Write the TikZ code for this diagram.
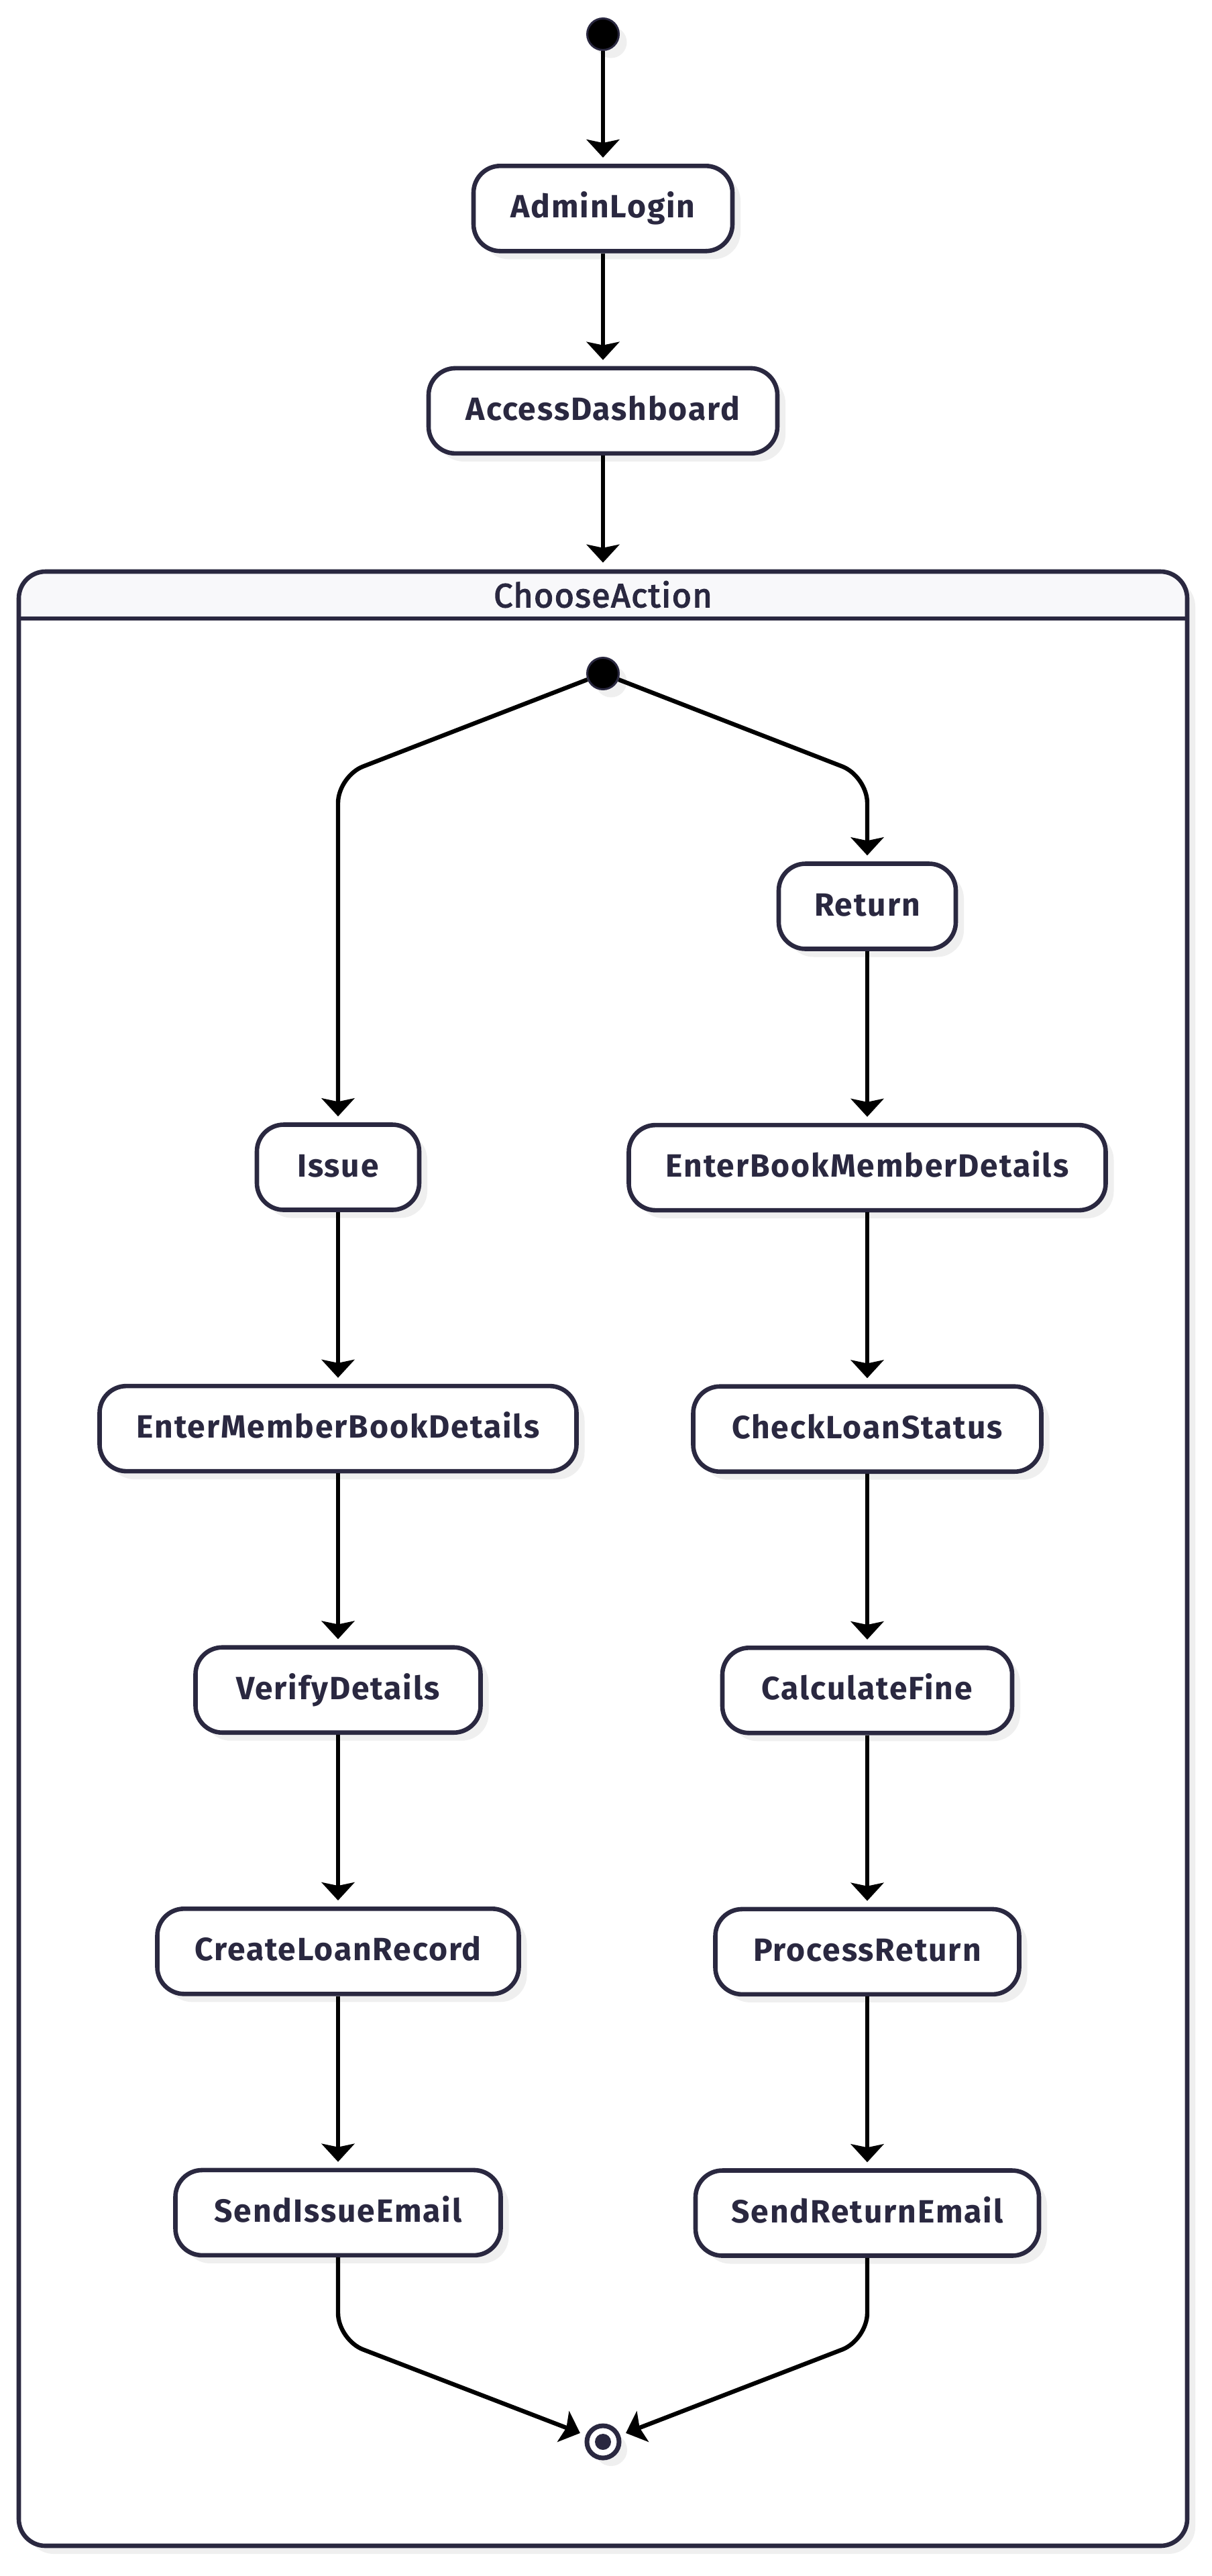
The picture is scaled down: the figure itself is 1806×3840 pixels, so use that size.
\documentclass[tikz,border=0pt]{standalone}
\usepackage{fontspec}
\usetikzlibrary{arrows.meta,positioning,shadows}
\setmainfont{Fira Sans}
\newfontfamily\statefont{Fira Sans}[LetterSpace=4]
\newfontfamily\titlefont{Fira Sans}[LetterSpace=3,FakeBold=3]
\definecolor{ink}{HTML}{2A2840}
\definecolor{panel}{HTML}{F8F8FA}
\definecolor{shade}{HTML}{EFEFEF}

\begin{document}
\begin{tikzpicture}[
  x=0.5pt,y=-0.5pt,
  flow/.style={-{Stealth[length=13.5pt,width=24.5pt,inset=2.5pt]},line width=3.2pt,draw=black,
               shorten >=4.5pt},
  castshadow/.style={drop shadow={shadow xshift=6pt,shadow yshift=-6pt,fill=shade,opacity=1}},
  state/.style={draw=ink,fill=white,line width=3.3pt,rounded corners=20pt,castshadow,
                minimum height=63.5pt,inner sep=0pt,text height=18pt,text depth=4pt,
                font=\statefont\bfseries\fontsize{24}{28}\selectfont,text=ink},
  initial/.style={circle,fill=black,draw=ink,line width=1.5pt,minimum size=23.5pt,
                  inner sep=0pt,castshadow},
  final/.style={circle,fill=white,draw=ink,line width=3.5pt,minimum size=24pt,inner sep=0pt,
                castshadow,
                path picture={\fill[ink] (path picture bounding box.center) circle (6pt);}},
  cluster/.style={draw=ink,fill=white,line width=3.3pt,rounded corners=20pt,inner sep=0pt,
                  castshadow,
                  path picture={
                    \fill[panel,sharp corners] (path picture bounding box.north west)
                      rectangle ([yshift=-35pt]path picture bounding box.north east);
                    \draw[ink,line width=3.3pt,sharp corners]
                      ([yshift=-35pt]path picture bounding box.north west) --
                      ([yshift=-35pt]path picture bounding box.north east);}},
  clustertitle/.style={font=\titlefont\fontsize{25}{30}\selectfont,text=ink}
]
\fill[white] (0,0) rectangle (1806,3840);
\useasboundingbox (0,0) rectangle (1806,3840);

% Top of the flow
\node[initial] (start) at (899,51) {};
\node[state,minimum width=193pt,below=84pt of start] (login) {AdminLogin};
\node[state,minimum width=260pt,below=84pt of login] (dash) {AccessDashboard};

% Composite state
\node[cluster,minimum width=871pt,minimum height=1471.5pt] (choose) at (899,2323.5) {};
\node[clustertitle] (chooseTitle) at (899,886) {ChooseAction};
\node[initial] (fork) at (899,1004) {};

% Return branch
\node[state,minimum width=132pt] (ret) at (1293,1351) {Return};
\node[state,minimum width=355.5pt,below=128pt of ret] (enterBM) {EnterBookMemberDetails};
\node[state,minimum width=259.5pt,below=128pt of enterBM] (check) {CheckLoanStatus};
\node[state,minimum width=216pt,below=128pt of check] (fine) {CalculateFine};
\node[state,minimum width=226.5pt,below=128pt of fine] (process) {ProcessReturn};
\node[state,minimum width=256pt,below=128pt of process] (returnMail) {SendReturnEmail};

% Issue branch
\node[state,minimum width=121pt] (issue) at (504,1740) {Issue};
\node[state,minimum width=355.5pt,below=128pt of issue] (enterMB) {EnterMemberBookDetails};
\node[state,minimum width=212.5pt,below=128pt of enterMB] (verify) {VerifyDetails};
\node[state,minimum width=269.5pt,below=128pt of verify] (loan) {CreateLoanRecord};
\node[state,minimum width=242.5pt,below=128pt of loan] (issueMail) {SendIssueEmail};

\node[final] (end) at (899,3640) {};

% Bend points
\coordinate (forkL) at (504,1157);
\coordinate (forkR) at (1293,1157);
\coordinate (joinL) at (504,3488);
\coordinate (joinR) at (1293,3488);

% Arrows
\draw[flow] (start) -- (login);
\draw[flow] (login) -- (dash);
\draw[flow,shorten >=5pt] (dash.south) -- (choose.north);
\draw[flow,rounded corners=20pt] (fork) -- (forkL) -- (issue.north);
\draw[flow,rounded corners=20pt] (fork) -- (forkR) -- (ret.north);
\draw[flow] (ret) -- (enterBM);
\draw[flow] (enterBM) -- (check);
\draw[flow] (check) -- (fine);
\draw[flow] (fine) -- (process);
\draw[flow] (process) -- (returnMail);
\draw[flow] (issue) -- (enterMB);
\draw[flow] (enterMB) -- (verify);
\draw[flow] (verify) -- (loan);
\draw[flow] (loan) -- (issueMail);
\draw[flow,rounded corners=20pt] (issueMail.south) -- (joinL) -- (end);
\draw[flow,rounded corners=20pt] (returnMail.south) -- (joinR) -- (end);

\end{tikzpicture}
\end{document}
